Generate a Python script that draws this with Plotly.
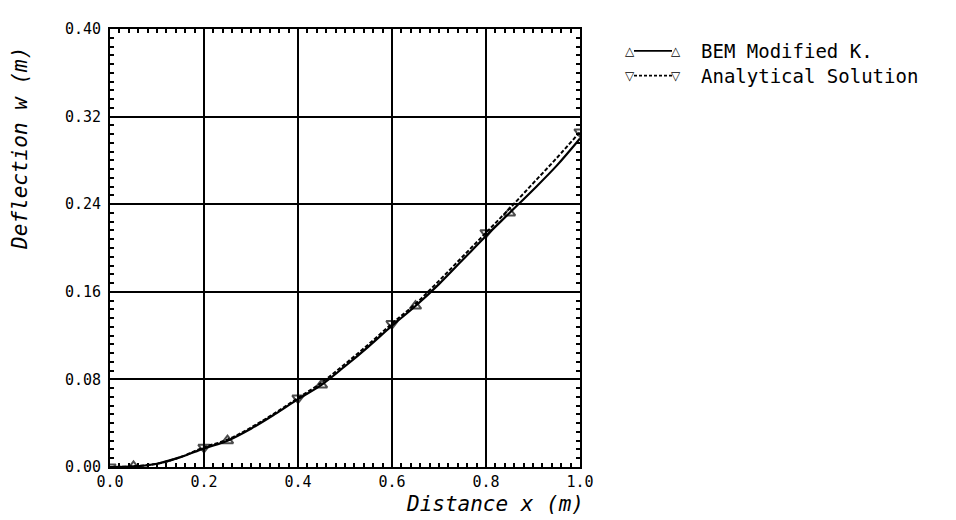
import plotly.graph_objects as go

# Data
x_grid = [0.0, 0.05, 0.1, 0.15, 0.2, 0.25, 0.3, 0.35, 0.4, 0.45, 0.5,
          0.55, 0.6, 0.65, 0.7, 0.75, 0.8, 0.85, 0.9, 0.95, 1.0]
w_bem = [0.0, 0.0005, 0.003, 0.009, 0.017, 0.024, 0.035, 0.048, 0.062, 0.075, 0.092,
         0.110, 0.129, 0.147, 0.167, 0.189, 0.211, 0.232, 0.253, 0.275, 0.300]
w_analytical = [0.0, 0.0006, 0.003, 0.009, 0.018, 0.025, 0.036, 0.049, 0.063, 0.077, 0.094,
                0.112, 0.131, 0.149, 0.170, 0.192, 0.214, 0.236, 0.259, 0.282, 0.306]
bem_marker_x = [0.05, 0.25, 0.45, 0.65, 0.85]
analytical_marker_x = [0.0, 0.2, 0.4, 0.6, 0.8, 1.0]
series_names = ["BEM Modified K.", "Analytical Solution"]

x_ticks = [0.0, 0.2, 0.4, 0.6, 0.8, 1.0]
x_tick_text = ["0.0", "0.2", "0.4", "0.6", "0.8", "1.0"]
y_ticks = [0.0, 0.08, 0.16, 0.24, 0.32, 0.40]
y_tick_text = ["0.00", "0.08", "0.16", "0.24", "0.32", "0.40"]

FONT = "DejaVu Sans Mono"

# page body has an 8px default margin; compensate so the plot area lands where the reference has it
BODY = 8
L, T, PW, PH = 110, 25, 470, 442
W, H = 956, 520


def sizes(xs, marks, s):
    return [s if any(abs(x - m) < 1e-9 for m in marks) else 0 for x in xs]


fig = go.Figure()
fig.add_trace(go.Scatter(
    x=x_grid, y=w_bem, mode="lines+markers", name=series_names[0], showlegend=False,
    line=dict(color="black", width=2.2, shape="spline"),
    marker=dict(symbol="triangle-up-open", size=sizes(x_grid, bem_marker_x, 10),
                color="black", line=dict(width=2, color="black")),
))
fig.add_trace(go.Scatter(
    x=x_grid, y=w_analytical, mode="lines+markers", name=series_names[1], showlegend=False,
    line=dict(color="black", width=2, dash="4px,2px", shape="spline"),
    marker=dict(symbol="triangle-down-open", size=sizes(x_grid, analytical_marker_x, 10),
                color="black", line=dict(width=2, color="black")),
))

axis_common = dict(
    showline=True, linecolor="black", linewidth=2, mirror="allticks",
    showgrid=True, gridcolor="black", gridwidth=2, zeroline=False,
    ticks="inside", ticklen=6, tickwidth=2, tickcolor="black",
    tickfont=dict(family=FONT, size=15, color="black"),
)

fig.update_xaxes(range=[0, 1.0], tickvals=x_ticks, ticktext=x_tick_text,
                 minor=dict(dtick=0.02, ticks="inside", ticklen=4, tickwidth=1.5,
                            tickcolor="black", showgrid=False),
                 **axis_common)
fig.update_yaxes(range=[0, 0.40], tickvals=y_ticks, ticktext=y_tick_text,
                 ticklabelstandoff=4,
                 minor=dict(dtick=0.008, ticks="inside", ticklen=4, tickwidth=1.5,
                            tickcolor="black", showgrid=False),
                 **axis_common)


def px_x(px):
    return (px - L) / PW


def px_y(py):
    return (T + PH - py) / PH


fig.add_annotation(text="<i>Distance x (m)</i>", xref="paper", yref="paper",
                   x=px_x(495), y=px_y(504), xanchor="center", yanchor="middle", showarrow=False,
                   font=dict(family=FONT, size=21, color="black"))
fig.add_annotation(text="<i>Deflection w (m)</i>", xref="paper", yref="paper",
                   x=px_x(20), y=px_y(146), xanchor="center", yanchor="middle", showarrow=False,
                   textangle=-90, font=dict(family=FONT, size=21, color="black"))

# custom legend: marker — line — marker, then label
legend_rows = [(47, "\u25b3", "solid"), (72, "\u25bd", "3px,2px")]
for (py, glyph, dash), name in zip(legend_rows, series_names):
    fig.add_shape(type="line", xref="paper", yref="paper",
                  x0=px_x(634), x1=px_x(672), y0=px_y(py), y1=px_y(py),
                  line=dict(color="black", width=1.8, dash=dash))
    for gx in (630, 676):
        fig.add_annotation(text="<b>" + glyph + "</b>", xref="paper", yref="paper",
                           x=px_x(gx), y=px_y(py), xanchor="center", yanchor="middle",
                           showarrow=False, font=dict(family="DejaVu Sans", size=12, color="black"))
    fig.add_annotation(text=name, xref="paper", yref="paper",
                       x=px_x(699), y=px_y(py), xanchor="left", yanchor="middle",
                       showarrow=False, font=dict(family=FONT, size=19, color="black"))

fig.update_layout(
    width=W, height=H,
    margin=dict(l=L - BODY, r=W - L - PW + BODY, t=T - BODY, b=H - T - PH + BODY),
    plot_bgcolor="white", paper_bgcolor="white",
    showlegend=False,
)

fig.write_html("out.html")
